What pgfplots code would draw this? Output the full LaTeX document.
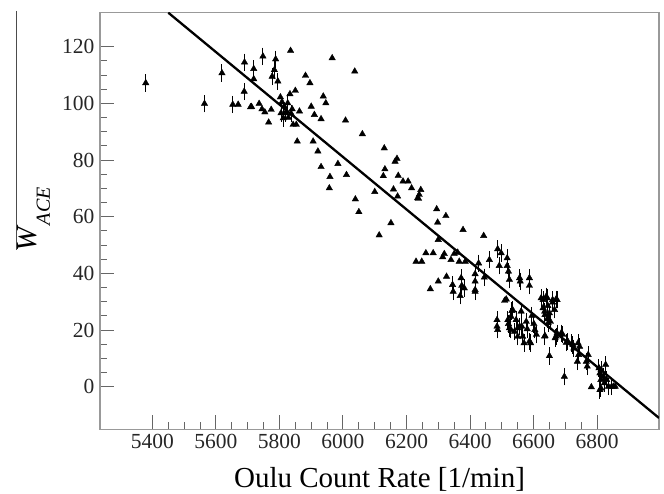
\documentclass[border=0pt]{standalone}
\usepackage{pgfplots}
\pgfplotsset{compat=1.18}
\usepackage{pgfplotstable}
\usepackage{fontspec}
\setmainfont{Liberation Serif}

\pgfplotstableread{
x y e
5379 107.2 2
5564 99.9 2
5619 110.7 2
5653 99.6 2
5690 114.5 2
5689 104.2 2
5719 112.2 2
5748 116.6 2
5788 115.6 2
5784 111.8 2
5777 109.5 2
5795 107.8 2
5826 100.1 2
5819 96.6 2
5805 96.6 2
5837 96.4 2
5812 94.8 2
6345 36.0 2
6347 33.6 2
6369 32.1 2
6372 38.4 2
6374 35.7 2
6382 34.8 2
6416 34.2 2
6416 37.2 2
6416 39.8 2
6416 33.6 2
6427 43.6 2
6445 38.6 2
6461 44.8 2
6487 48.6 2
6498 47.2 2
6492 42.7 2
6517 45.4 2
6517 42.7 2
6521 40.7 2
6524 37.8 2
6485 21.3 2
6485 23.6 2
6487 20.1 2
6519 23.6 2
6521 22.2 2
6524 20.7 2
6532 26.8 2
6540 19.5 2
6550 17.7 2
6556 38.4 2
6558 37.2 2
6561 26.6 2
6563 21.3 2
6566 17.7 2
6570 15.4 2
6577 23.0 2
6587 38.4 2
6587 35.7 2
6591 15.4 2
6595 25.1 2
6601 22.2 2
6604 20.1 2
6609 18.4 2
6624 31.3 2
6630 27.8 2
6635 26.6 2
6636 25.4 2
6640 31.9 2
6643 23.9 2
6645 28.6 2
6646 22.5 2
6650 26.0 2
6653 23.0 2
6660 29.8 2
6666 27.2 2
6671 30.9 2
6636 18.0 2
6650 10.9 2
6668 17.2 2
6674 18.9 2
6692 18.4 2
6697 3.6 2
6703 15.6 2
6721 15.4 2
6727 13.6 2
6740 15.4 2
6742 11.3 2
6745 14.2 2
6738 8.9 2
6766 8.9 2
6769 7.2 2
6806 6.6 2
6809 4.8 2
6812 2.5 2
6812 -0.5 2
6820 3.6 2
6823 1.3 2
6827 7.8 2
6830 2.5 2
6836 0.1 2
6846 0.1 2
6630 30.7 2
6643 31.3 2
6660 30.7 2
6674 30.7 2
6534 27.2 2
6529 20.1 2
6550 20.7 2
6587 16.0 2
6635 17.8 2
6671 17.8 2
6687 18.9 2
6708 16.0 2
6724 14.8 2
6772 11.3 2
6813 6.0 2
6809 -1.1 2
6529 24.8 2
6545 23.6 2
6556 21.3 2
6580 20.4 2
}\witherr

\pgfplotstableread{
x y
5670 99.6
5709 98.7
5712 98.8
5719 108.6
5736 99.9
5745 98.0
5754 96.9
5766 93.3
5774 97.8
5803 102.2
5808 100.5
5815 99.0
5822 97.0
5828 95.0
5840 98.0
5833 103.3
5835 118.6
5843 92.5
5850 104.5
5853 92.5
5856 86.6
5863 97.2
5882 109.8
5896 107.2
5900 98.9
5906 86.6
5910 96.0
5921 83.1
5931 94.5
5931 77.6
5938 102.5
5946 100.1
5959 74.1
5957 70.1
5966 116.0
5984 78.7
6008 94.0
6011 74.8
6037 111.3
6039 66.2
6050 61.7
6061 89.2
6100 68.8
6114 53.5
6127 74.4
6130 84.2
6132 76.8
6151 57.8
6159 69.7
6164 79.5
6170 80.5
6174 74.5
6172 67.2
6189 72.5
6205 72.5
6216 70.1
6240 67.8
6238 66.4
6245 69.5
6235 66.6
6295 62.7
6298 58.0
6324 60.3
6300 51.9
6230 44.2
6248 44.2
6261 47.2
6275 34.5
6284 47.2
6300 37.2
6314 45.8
6319 46.9
6326 38.9
6340 44.8
6350 46.9
6361 47.4
6366 44.2
6378 55.4
6385 44.2
6443 53.3
6509 30.4
6514 30.9
6782 -0.1
6852 0.1
6857 0.1
}\noerr

\pgfplotstableread{
x y
5450 132.0
6995 -11.0
}\fitline

\begin{document}
\begin{tikzpicture}
\begin{axis}[
  scale only axis,
  width=559pt, height=416.6pt,
  xmin=5235, xmax=6995,
  ymin=-15, ymax=132,
  axis line style={draw=gray!80, line width=1.2pt},
  tick style={draw=gray!80!black, line width=1pt},
  tick align=inside,
  tick pos=left,
  xtick={5400,5600,...,6800},
  ytick={0,20,...,120},
  minor x tick num=3,
  minor y tick num=3,
  major tick length=14pt,
  minor tick length=7pt,
  /pgf/number format/assume math mode=true,
  /pgf/number format/.cd, 1000 sep={}, /pgfplots/.cd,
  tick label style={font=\fontsize{21.5}{23}\selectfont, text=black!85},
  xticklabel style={yshift=-1pt},
  yticklabel style={xshift=-2pt},
  clip=true,
]
\addplot[only marks, mark=triangle*, mark size=3.7pt, black,
  error bars/.cd, y dir=both, y explicit,
  error bar style={line width=1pt, black},
  error mark options={black, line width=1pt, mark size=3pt}]
  table[x=x, y=y, y error=e] {\witherr};
\addplot[only marks, mark=triangle*, mark size=3.7pt, black]
  table[x=x, y=y] {\noerr};
\addplot[black, line width=2.3pt, no marks] table[x=x, y=y] {\fitline};
\end{axis}
\draw[gray!60!black, line width=0.8pt] (-84pt,418.3pt) -- (-84pt,179.3pt);
\node[rotate=90, anchor=base, inner sep=0pt] at (-63pt,209.8pt)
  {\fontsize{29}{30}\selectfont\textit{W}\raisebox{-13pt}{\fontsize{20}{20}\selectfont\textit{ACE}}};
\node[anchor=base, inner sep=0pt] at (279.5pt,-57.7pt)
  {\fontsize{29}{30}\selectfont Oulu Count Rate [1/min]};
\pgfresetboundingbox
\path (-100pt,-63.7pt) rectangle (564pt,429.3pt);
\end{tikzpicture}
\end{document}
